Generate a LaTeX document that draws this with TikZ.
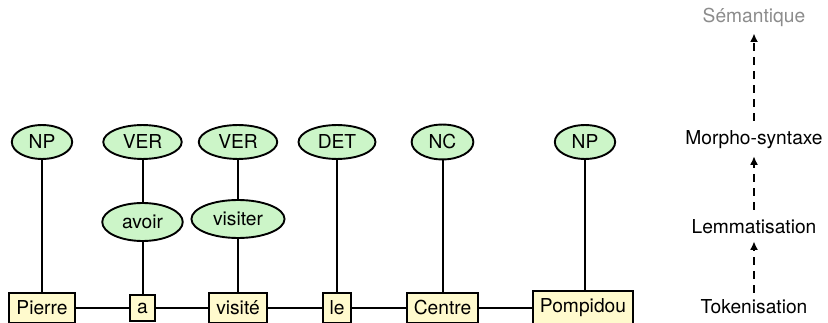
\documentclass[tikz,border=0pt]{standalone}
\usepackage{fontspec}
\setmainfont{TeX Gyre Heros}
\usetikzlibrary{shapes.geometric,arrows.meta}
\definecolor{posfill}{RGB}{204,245,200}
\definecolor{wordfill}{RGB}{255,250,205}
\definecolor{levelgray}{RGB}{140,140,140}
\begin{document}
\begin{tikzpicture}[x=1pt,y=-1pt,
  every node/.style={font=\fontsize{19.2}{21}\selectfont},
  word/.style={draw, line width=2pt, fill=wordfill, inner xsep=7pt, inner ysep=8pt},
  tag/.style={draw, ellipse, line width=1.9pt, fill=posfill, inner xsep=8pt, inner ysep=5pt},
  lemma/.style={tag, minimum height=38pt},
  link/.style={line width=2pt},
  level/.style={inner sep=2pt},
  up/.style={line width=2pt, dash pattern=on 8pt off 6pt, -{Latex[length=8.5pt,width=8pt]}}
]
\useasboundingbox (0,0) rectangle (828,323);

% tokens
\node[word] (w1) at (42,308) {Pierre};
\node[word] (w2) at (142.5,308) {a};
\node[word] (w3) at (238,308) {visité};
\node[word] (w4) at (337,308) {le};
\node[word] (w5) at (442.5,308) {Centre};
\node[word] (w6) at (583,308) {Pompidou};

% lemmas
\node[lemma] (l2) at (142.5,222) {avoir};
\node[lemma] (l3) at (238,219) {visiter};

% part-of-speech tags
\node[tag] (t1) at (42,142) {NP};
\node[tag] (t2) at (142.5,142) {VER};
\node[tag] (t3) at (238,142) {VER};
\node[tag] (t4) at (337,142) {DET};
\node[tag] (t5) at (442.5,142) {NC};
\node[tag] (t6) at (585,142) {NP};

% token chain
\draw[link] (w1) -- (w2) -- (w3) -- (w4) -- (w5) -- (w6);

% vertical attachments
\draw[link] (t1) -- (w1);
\draw[link] (t2) -- (l2) -- (w2);
\draw[link] (t3) -- (l3) -- (w3);
\draw[link] (t4) -- (w4);
\draw[link] (t5) -- (w5);
\draw[link] (t6.south) -- (t6.south |- w6.north);

% analysis levels
\node[level, text=levelgray] (sem) at (754,17) {Sémantique};
\node[level] (mor) at (754,140) {Morpho-syntaxe};
\node[level] (lem) at (754,227) {Lemmatisation};
\node[level] (tok) at (754,307) {Tokenisation};

\draw[up, shorten <=8pt, shorten >=5pt] (mor.north) -- (sem.south);
\draw[up, shorten <=8pt, shorten >=5pt] (lem.north) -- (mor.south);
\draw[up, shorten <=5pt, shorten >=5pt] (tok.north) -- (lem.south);
\end{tikzpicture}
\end{document}
